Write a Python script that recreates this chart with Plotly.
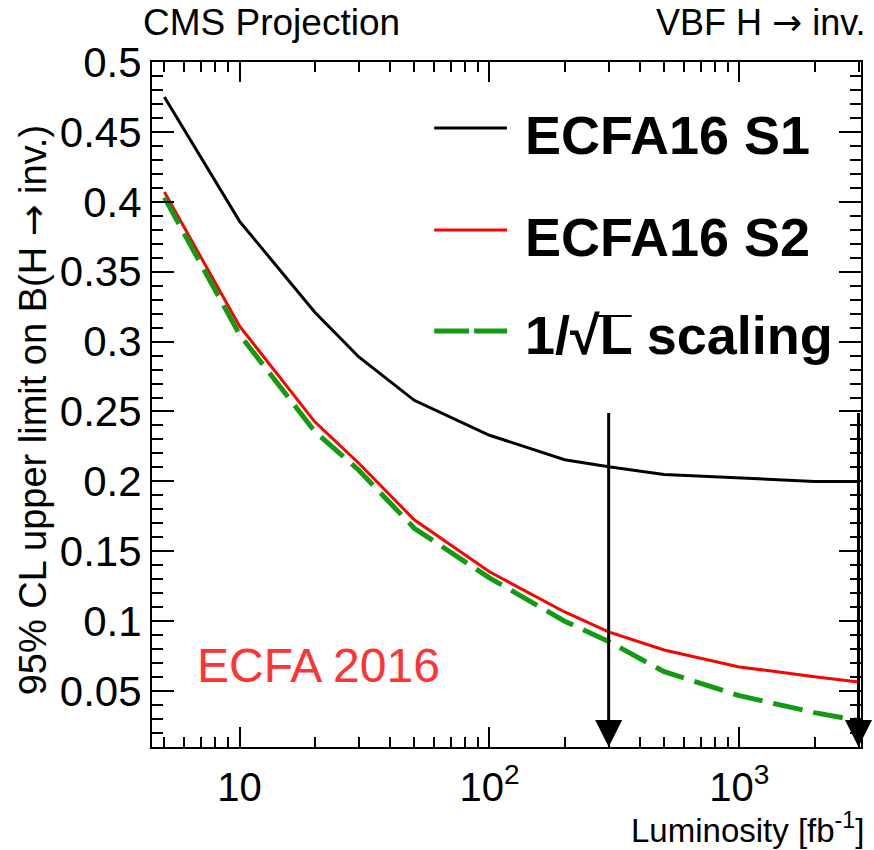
import numpy as np
import plotly.graph_objects as go

# Integrated luminosity points [fb^-1]
lumi = [5, 10, 20, 30, 50, 100, 200, 300, 500, 1000, 2000, 3000]

# 95% CL upper limits on B(H -> inv.)
ecfa16_s1 = [0.475, 0.386, 0.321, 0.289, 0.258, 0.233, 0.2155, 0.2104, 0.205, 0.2023, 0.200, 0.200]
ecfa16_s2 = [0.407, 0.311, 0.2426, 0.213, 0.1725, 0.1353, 0.1066, 0.0923, 0.0794, 0.0673, 0.0603, 0.0565]
sqrt_scaling = [0.403, 0.305, 0.2357, 0.208, 0.1665, 0.131, 0.100, 0.0855, 0.0639, 0.0467, 0.0346, 0.0288]

# Luminosity benchmarks marked with arrows
benchmarks = [300, 3000]

x_ticks = [10, 100, 1000]
x_ticktext = ["10", "10<sup>2</sup>", "10<sup>3</sup>"]
x_minor = [5, 6, 7, 8, 9, 20, 30, 40, 50, 60, 70, 80, 90,
           200, 300, 400, 500, 600, 700, 800, 900, 2000, 3000]
y_ticks = [0.05, 0.1, 0.15, 0.2, 0.25, 0.3, 0.35, 0.4, 0.45, 0.5]
y_ticktext = ["0.05", "0.1", "0.15", "0.2", "0.25", "0.3", "0.35", "0.4", "0.45", "0.5"]
y_minor = [round(0.01 * i, 2) for i in range(1, 51)]

FONT = "Liberation Sans"
ARROW = '<span style="font-family:DejaVu Sans">→</span>'
W, H = 874, 850
L_M, R_M, T_M, B_M = 152, 11, 62, 103
PW, PH = W - L_M - R_M, H - T_M - B_M


def px(x):
    return (x - L_M) / PW


def py(y):
    return (H - B_M - y) / PH


fig = go.Figure()
fig.add_trace(go.Scatter(x=lumi, y=ecfa16_s1, mode="lines", name="ECFA16 S1",
                         line=dict(color="black", width=3)))
fig.add_trace(go.Scatter(x=lumi, y=ecfa16_s2, mode="lines", name="ECFA16 S2",
                         line=dict(color="#ff0000", width=3)))
fig.add_trace(go.Scatter(x=lumi, y=sqrt_scaling, mode="lines", name="1/√L scaling",
                         line=dict(color="#139a13", width=5, dash="30px,11px")))

annotations = []
# Vertical arrows at the benchmark luminosities
for b in benchmarks:
    annotations.append(dict(x=np.log10(b), y=0.01, ax=np.log10(b), ay=0.25,
                            xref="x", yref="y", axref="x", ayref="y",
                            text="", showarrow=True, arrowhead=2, arrowsize=1.8,
                            arrowwidth=3, arrowcolor="black", standoff=0))

# Manual legend
legend_rows = [
    ("<b>ECFA16 S1</b>", "black", "solid", 3, 128, 135),
    ("<b>ECFA16 S2</b>", "#ff0000", "solid", 3, 230, 237),
    ("<b>1/√L scaling</b>", "#139a13", "dash", 5, 331, 335),
]
shapes = []
for text, color, dash, width, ly, ty in legend_rows:
    if dash == "solid":
        shapes.append(dict(type="line", xref="paper", yref="paper",
                           x0=px(435), x1=px(508), y0=py(ly), y1=py(ly),
                           line=dict(color=color, width=width)))
    else:
        for a, b in [(435, 470), (475, 508)]:
            shapes.append(dict(type="line", xref="paper", yref="paper",
                               x0=px(a), x1=px(b), y0=py(ly), y1=py(ly),
                               line=dict(color=color, width=width)))
    annotations.append(dict(x=px(524), y=py(ty), xref="paper", yref="paper",
                            xanchor="left", yanchor="middle", showarrow=False,
                            text=text, font=dict(family=FONT, size=54, color="black")))

# Radical bar over the L in the legend label
shapes.append(dict(type="line", xref="paper", yref="paper",
                   x0=px(597), x1=px(633), y0=py(316), y1=py(316),
                   line=dict(color="black", width=2)))

annotations += [
    dict(x=px(141), y=py(22), xref="paper", yref="paper", xanchor="left", yanchor="middle",
         showarrow=False, text="CMS Projection", font=dict(family=FONT, size=37, color="black")),
    dict(x=px(870), y=py(22), xref="paper", yref="paper", xanchor="right", yanchor="middle",
         showarrow=False, text="VBF H " + ARROW + " inv.",
         font=dict(family=FONT, size=36, color="black")),
    dict(x=px(33), y=py(410), xref="paper", yref="paper", xanchor="center", yanchor="middle",
         showarrow=False, textangle=-90, text="95% CL upper limit on B(H " + ARROW + " inv.)",
         font=dict(family=FONT, size=38, color="black")),
    dict(x=px(868), y=py(828), xref="paper", yref="paper", xanchor="right", yanchor="middle",
         showarrow=False, text="Luminosity [fb<sup>-1</sup>]",
         font=dict(family=FONT, size=33, color="black")),
    dict(x=px(195), y=py(665), xref="paper", yref="paper", xanchor="left", yanchor="middle",
         showarrow=False, text="ECFA 2016", font=dict(family=FONT, size=48, color="#ff3333")),
]

fig.update_layout(
    width=W, height=H,
    margin=dict(l=L_M, r=R_M, t=T_M, b=B_M),
    paper_bgcolor="white", plot_bgcolor="white",
    showlegend=False,
    annotations=annotations,
    shapes=shapes,
    xaxis=dict(type="log", range=[np.log10(4.46), np.log10(3070)],
               tickmode="array", tickvals=x_ticks, ticktext=x_ticktext,
               ticks="inside", ticklen=20, tickwidth=1.5, tickcolor="black",
               minor=dict(tickmode="array", tickvals=x_minor, ticks="inside",
                          ticklen=10, tickwidth=1.5, tickcolor="black", showgrid=False),
               showline=True, linecolor="black", linewidth=2, mirror="ticks",
               showgrid=False, zeroline=False, ticklabelstandoff=4,
               tickfont=dict(family=FONT, size=40, color="black")),
    yaxis=dict(range=[0.01, 0.5],
               tickmode="array", tickvals=y_ticks, ticktext=y_ticktext,
               ticks="inside", ticklen=22, tickwidth=1.5, tickcolor="black",
               minor=dict(tickmode="array", tickvals=y_minor, ticks="inside",
                          ticklen=11, tickwidth=1.5, tickcolor="black", showgrid=False),
               showline=True, linecolor="black", linewidth=2, mirror="ticks",
               showgrid=False, zeroline=False,
               tickfont=dict(family=FONT, size=42, color="black")),
)

fig.write_html("out.html")
